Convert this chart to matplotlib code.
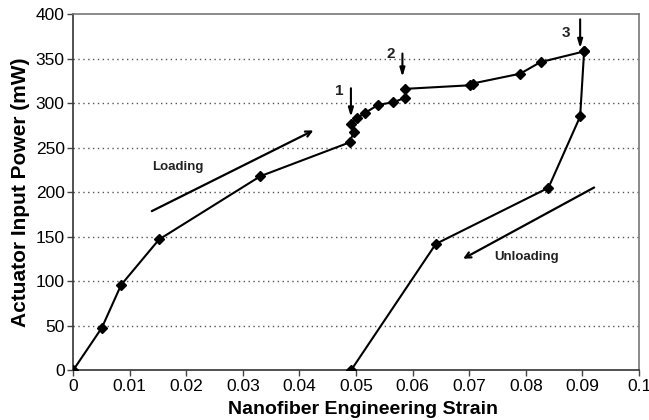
import matplotlib
matplotlib.use("Agg")
import matplotlib.pyplot as plt

plt.rcParams['font.family'] = ['Liberation Sans', 'DejaVu Sans']

# Loading branch
load_x = [0, 0.0051, 0.0085, 0.0152, 0.0331, 0.0489, 0.0496, 0.0491, 0.0501,
          0.0516, 0.0539, 0.0566, 0.0587, 0.0587, 0.0701, 0.0706, 0.0790,
          0.0826, 0.0903]
load_y = [0, 48, 96, 147, 218, 256, 268, 276, 283, 289, 298, 301, 306, 316,
          320, 322, 333, 346, 358]
# Unloading branch
unload_x = [0.0903, 0.0896, 0.0840, 0.0641, 0.0491]
unload_y = [358, 285, 205, 142, 0]

x_ticks = [0, 0.01, 0.02, 0.03, 0.04, 0.05, 0.06, 0.07, 0.08, 0.09, 0.1]
x_tick_labels = ['0', '0.01', '0.02', '0.03', '0.04', '0.05', '0.06', '0.07',
                 '0.08', '0.09', '0.1']
y_ticks = [0, 50, 100, 150, 200, 250, 300, 350, 400]

fig = plt.figure(figsize=(6.49, 4.2), dpi=100)
ax = fig.add_axes([0.1125, 0.1179, 0.8721, 0.8488])

for yv in y_ticks[1:-1]:
    ax.axhline(yv, color='#555555', linestyle=(0, (1, 2.5)), linewidth=1.0, zorder=1)

ax.plot(load_x, load_y, color='black', linewidth=1.5, marker='D', markersize=5.5, zorder=3)
ax.plot(unload_x, unload_y, color='black', linewidth=1.5, marker='D', markersize=5.5, zorder=3)

ax.set_xlim(0, 0.1)
ax.set_ylim(0, 400)
ax.set_xticks(x_ticks)
ax.set_xticklabels(x_tick_labels)
ax.set_yticks(y_ticks)
ax.tick_params(axis='both', direction='out', length=4, width=1, labelsize=12.5,
               color='#444444', pad=2)

for s in ['left', 'bottom']:
    ax.spines[s].set_color('#333333')
    ax.spines[s].set_linewidth(1.2)
for s in ['top', 'right']:
    ax.spines[s].set_color('#777777')
    ax.spines[s].set_linewidth(1.2)

ax.set_xlabel('Nanofiber Engineering Strain', fontsize=14, fontweight='bold', labelpad=3)
ax.xaxis.set_label_coords(0.512, -0.085)
ax.set_ylabel('Actuator Input Power (mW)', fontsize=15, fontweight='bold', labelpad=4)

# Direction arrows
ax.annotate('', xy=(0.0429, 270.7), xytext=(0.01348, 177.4),
            arrowprops=dict(arrowstyle='->', color='black', lw=1.6,
                            mutation_scale=10))
ax.annotate('', xy=(0.0685, 123.9), xytext=(0.0925, 206.8),
            arrowprops=dict(arrowstyle='->', color='black', lw=1.6,
                            mutation_scale=10))
ax.text(0.0186, 227.8, 'Loading', fontsize=9.5, fontweight='bold',
        ha='center', va='center', color='#222222')
ax.text(0.0802, 126.9, 'Unloading', fontsize=9.5, fontweight='bold',
        ha='center', va='center', color='#222222')

# Numbered markers
marks = [((0.0491, 316.7), (0.0491, 284.5), (0.0470, 313.7), '1'),
         ((0.0582, 355.6), (0.0582, 329.4), (0.0561, 354.8), '2'),
         ((0.0896, 394.0), (0.0896, 361.5), (0.0871, 378.4), '3')]
for start, end, lab_pos, lab in marks:
    ax.annotate('', xy=end, xytext=start,
                arrowprops=dict(arrowstyle='-|>,head_length=0.5,head_width=0.15',
                                color='black', lw=1.5, shrinkA=0, shrinkB=0))
    ax.text(lab_pos[0], lab_pos[1], lab, fontsize=11, fontweight='bold',
            ha='center', va='center', color='#222222')

fig.savefig('out.png', dpi=100)
